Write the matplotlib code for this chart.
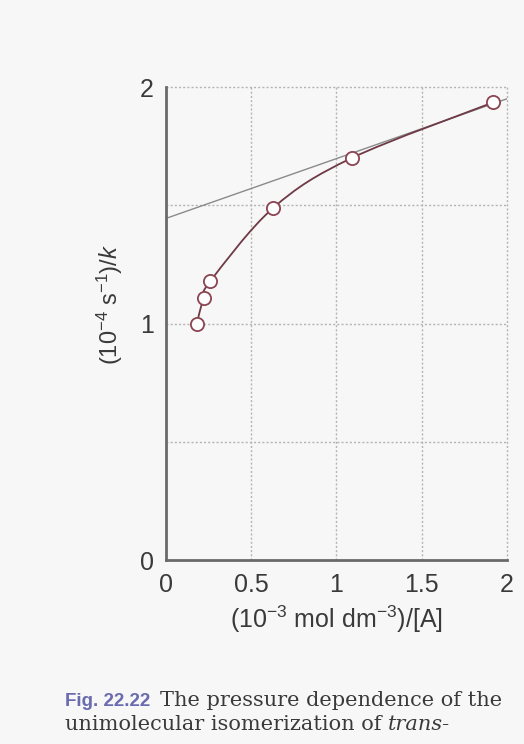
import numpy as np
import matplotlib.pyplot as plt
from matplotlib.path import Path
from matplotlib.patches import PathPatch

# values
inv_conc = [0.18, 0.22, 0.26, 0.63, 1.09, 1.92]
inv_k = [1.00, 1.11, 1.18, 1.49, 1.70, 1.935]
line_x = [0.0, 2.0]
line_y = [1.445, 1.95]

x_ticks = [0, 0.5, 1, 1.5, 2]
x_ticklabels = ['0', '0.5', '1', '1.5', '2']
y_ticks = [0, 1, 2]
y_ticklabels = ['0', '1', '2']

bg = '#f7f7f7'
curve_col = '#6e3a45'
mark_col = '#8a4452'
txt_col = '#3a3a3a'

plt.rcParams['font.family'] = ['Liberation Sans', 'DejaVu Sans']
plt.rcParams['mathtext.fontset'] = 'custom'
plt.rcParams['mathtext.rm'] = 'Liberation Sans'
plt.rcParams['mathtext.it'] = 'Liberation Sans:italic'

fig = plt.figure(figsize=(5.24, 7.44), dpi=100, facecolor=bg)
ax = fig.add_axes([0.317, 0.247, 0.650, 0.636], facecolor=bg)

ax.set_xlim(0, 2)
ax.set_ylim(0, 2)

# grid (dotted)
for g in [0.5, 1.0, 1.5, 2.0]:
    ax.axhline(g, color='#b4b4b4', lw=1, ls=(0, (1.5, 1.5)), zorder=1, clip_on=False)
    ax.axvline(g, color='#b4b4b4', lw=1, ls=(0, (1.5, 1.5)), zorder=1, clip_on=False)

# straight limiting line
ax.plot(line_x, line_y, color='#8a8a8a', lw=1.0, zorder=2)

# smooth curve through the data (Catmull-Rom drawn as cubic bezier path)
pts = np.column_stack([inv_conc, inv_k])
verts = [pts[0]]
codes = [Path.MOVETO]
for i in range(len(pts) - 1):
    p0 = pts[i - 1] if i > 0 else pts[i]
    p1 = pts[i]
    p2 = pts[i + 1]
    p3 = pts[i + 2] if i + 2 < len(pts) else pts[i + 1]
    verts += [p1 + (p2 - p0) / 6.0, p2 - (p3 - p1) / 6.0, p2]
    codes += [Path.CURVE4] * 3
ax.add_patch(PathPatch(Path(verts, codes), fill=False, ec=curve_col, lw=1.3, zorder=3))

ax.plot(inv_conc, inv_k, 'o', ms=9.5, mfc='white', mec=mark_col, mew=1.3, zorder=4, clip_on=False)

ax.set_xticks(x_ticks)
ax.set_xticklabels(x_ticklabels)
ax.set_yticks(y_ticks)
ax.set_yticklabels(y_ticklabels)
ax.tick_params(length=0, labelsize=18, colors=txt_col)
ax.tick_params(axis='x', pad=9)
ax.tick_params(axis='y', pad=9)

for s in ['top', 'right']:
    ax.spines[s].set_visible(False)
for s in ['left', 'bottom']:
    ax.spines[s].set_color('#6a6a6a')
    ax.spines[s].set_linewidth(2)

ax.set_xlabel(r'(10$^{-3}$ mol dm$^{-3}$)/[A]', fontsize=18, color=txt_col, labelpad=5)
ax.set_ylabel(r'(10$^{-4}$ s$^{-1}$)/$k$', fontsize=17, color=txt_col)
ax.yaxis.set_label_coords(-0.12, 0.54)

# caption
serif = ['DejaVu Serif']
fig.text(0.124, 0.051, 'Fig. 22.22', fontsize=13.5, fontweight='bold', color='#6b6bb0',
         family=['Liberation Sans', 'DejaVu Sans'], va='baseline')
fig.text(0.305, 0.051, 'The pressure dependence of the', fontsize=15, color=txt_col,
         family=serif, va='baseline')
t2 = fig.text(0.124, 0.019, 'unimolecular isomerization of ', fontsize=15, color=txt_col,
              family=serif, va='baseline')
fig.canvas.draw()
bb = t2.get_window_extent(renderer=fig.canvas.get_renderer())
fig.text(bb.x1 / fig.bbox.width, 0.019, 'trans-', fontsize=15, color=txt_col, style='italic',
         family=serif, va='baseline')

fig.savefig('out.png', dpi=100, facecolor=bg)
